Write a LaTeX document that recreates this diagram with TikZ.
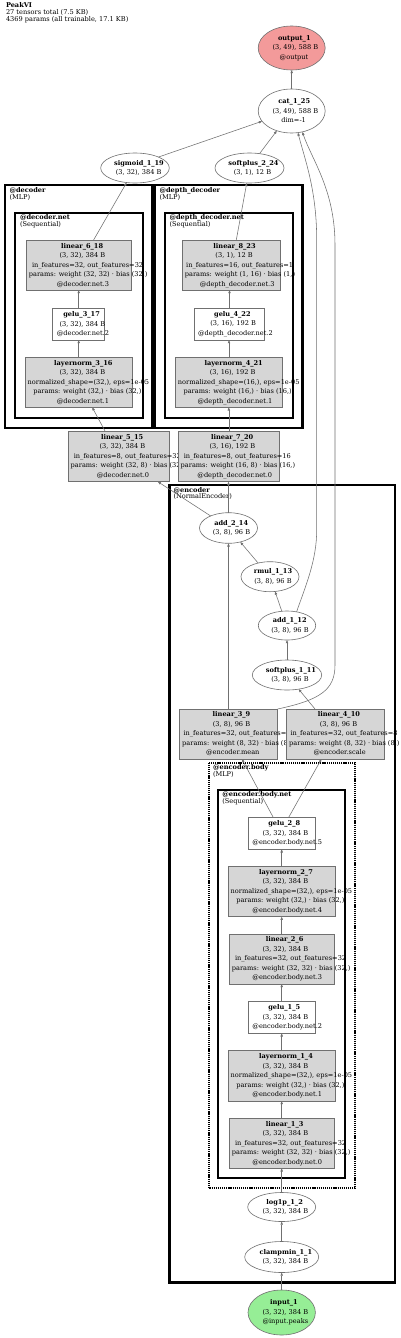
\documentclass[tikz,border=0pt]{standalone}
\usepackage{fontspec}
\setmainfont{DejaVu Serif}
\usetikzlibrary{shapes.geometric,arrows.meta,calc}
\definecolor{ncoral}{HTML}{F39A9A}
\definecolor{ngreen}{HTML}{96EE96}
\definecolor{ngray}{HTML}{D6D6D6}
\definecolor{nline}{HTML}{707070}
\newsavebox{\lnbox}
\newcommand{\cl}[1]{\sbox{\lnbox}{#1}\makebox[0pt]{\kern0.16\wd\lnbox\usebox{\lnbox}}}
\tikzset{
 every node/.style={inner sep=0pt, outer sep=0pt},
 nfont/.style={font=\fontsize{6.6}{9.5}\selectfont},
 gbox/.style={rectangle, draw=nline, fill=ngray, line width=0.6pt, nfont, align=center},
 wbox/.style={gbox, fill=white},
 oval/.style={ellipse, draw=nline, fill=white, line width=0.6pt, nfont, align=center},
 edge/.style={draw=nline, line width=0.55pt, -{Triangle[length=3.2pt,width=2.4pt]}},
 clusterA/.style={draw=black, line width=2.8pt},
 clusterB/.style={draw=black, line width=1.9pt},
 clusterD/.style={draw=black, line width=2pt, dash pattern=on 1.2pt off 0.9pt},
 clab/.style={font=\fontsize{6.6}{6.8}\selectfont, align=left, anchor=north west},
}
\begin{document}
\begin{tikzpicture}[x=1pt,y=-1pt]
\useasboundingbox[fill=white] (0,0) rectangle (400,1338);
% title
\node[clab, font=\fontsize{6.6}{7}\selectfont] (title) at (6,2.3) {\textbf{PeakVI}\\27 tensors total (7.5 KB)\\4369 params (all trainable, 17.1 KB)};
% clusters
\draw[clusterA] (5,185) rectangle (152.7,428);
\draw[clusterB] (15,212.7) rectangle (142.7,417.7);
\draw[clusterA] (155,185) rectangle (302.7,428);
\draw[clusterB] (165,212.7) rectangle (292.7,417.7);
\draw[clusterA] (169.3,485) rectangle (395,1282.7);
\draw[clusterD] (208.7,762.7) rectangle (355,1188.3);
\draw[clusterB] (217.7,790) rectangle (345,1178.3);
\node[clab] (lab_decoder) at (9.5,187.3) {\textbf{@decoder}\\(MLP)};
\node[clab] (lab_decoder_net) at (20,214.9) {\textbf{@decoder.net}\\(Sequential)};
\node[clab] (lab_depth) at (159.5,187.3) {\textbf{@depth\_decoder}\\(MLP)};
\node[clab] (lab_depth_net) at (169.5,214.9) {\textbf{@depth\_decoder.net}\\(Sequential)};
\node[clab] (lab_enc) at (173.5,487.1) {\textbf{@encoder}\\(NormalEncoder)};
\node[clab] (lab_body) at (213,764.4) {\textbf{@encoder.body}\\(MLP)};
\node[clab] (lab_bodynet) at (222.3,791.4) {\textbf{@encoder.body.net}\\(Sequential)};
% nodes
\node[oval, fill=ncoral, minimum width=67pt, minimum height=44pt] (output_1) at (291.7,48) {\cl{\textbf{output\_1}}\\\cl{(3, 49), 588 B}\\\cl{@output}};
\node[oval, minimum width=67pt, minimum height=44pt] (cat_1_25) at (291.7,111) {\cl{\textbf{cat\_1\_25}}\\\cl{(3, 49), 588 B}\\\cl{dim=-1}};
\node[oval, minimum width=68.6pt, minimum height=30pt] (sigmoid_1_19) at (135,168) {\cl{\textbf{sigmoid\_1\_19}}\\\cl{(3, 32), 384 B}};
\node[oval, minimum width=69pt, minimum height=30pt] (softplus_2_24) at (249.5,168) {\cl{\textbf{softplus\_2\_24}}\\\cl{(3, 1), 12 B}};
% decoder
\node[gbox, minimum width=105.3pt, minimum height=49.3pt] (linear_6_18) at (78.7,265.35) {\cl{\textbf{linear\_6\_18}}\\\cl{(3, 32), 384 B}\\\cl{in\_features=32, out\_features=32}\\\cl{params: weight (32, 32) · bias (32,)}\\\cl{@decoder.net.3}};
\node[wbox, minimum width=52pt, minimum height=31.7pt] (gelu_3_17) at (78.7,324.15) {\cl{\textbf{gelu\_3\_17}}\\\cl{(3, 32), 384 B}\\\cl{@decoder.net.2}};
\node[gbox, minimum width=106.6pt, minimum height=50pt] (layernorm_3_16) at (78.7,382.3) {\cl{\textbf{layernorm\_3\_16}}\\\cl{(3, 32), 384 B}\\\cl{normalized\_shape=(32,), eps=1e-05}\\\cl{params: weight (32,) · bias (32,)}\\\cl{@decoder.net.1}};
% depth decoder
\node[gbox, minimum width=97.7pt, minimum height=49.3pt] (linear_8_23) at (231.15,265.35) {\cl{\textbf{linear\_8\_23}}\\\cl{(3, 1), 12 B}\\\cl{in\_features=16, out\_features=1}\\\cl{params: weight (1, 16) · bias (1,)}\\\cl{@depth\_decoder.net.3}};
\node[wbox, minimum width=70.4pt, minimum height=31.7pt] (gelu_4_22) at (229.5,324.15) {\cl{\textbf{gelu\_4\_22}}\\\cl{(3, 16), 192 B}\\\cl{@depth\_decoder.net.2}};
\node[gbox, minimum width=106.6pt, minimum height=50pt] (layernorm_4_21) at (229,382.3) {\cl{\textbf{layernorm\_4\_21}}\\\cl{(3, 16), 192 B}\\\cl{normalized\_shape=(16,), eps=1e-05}\\\cl{params: weight (16,) · bias (16,)}\\\cl{@depth\_decoder.net.1}};
\node[gbox, minimum width=101pt, minimum height=50.7pt] (linear_5_15) at (118.8,456.35) {\cl{\textbf{linear\_5\_15}}\\\cl{(3, 32), 384 B}\\\cl{in\_features=8, out\_features=32}\\\cl{params: weight (32, 8) · bias (32,)}\\\cl{@decoder.net.0}};
\node[gbox, minimum width=101pt, minimum height=50.7pt] (linear_7_20) at (228.8,456.35) {\cl{\textbf{linear\_7\_20}}\\\cl{(3, 16), 192 B}\\\cl{in\_features=8, out\_features=16}\\\cl{params: weight (16, 8) · bias (16,)}\\\cl{@depth\_decoder.net.0}};
% encoder
\node[oval, minimum width=58pt, minimum height=30.6pt] (add_2_14) at (228.5,528) {\cl{\textbf{add\_2\_14}}\\\cl{(3, 8), 96 B}};
\node[oval, minimum width=58pt, minimum height=30pt] (rmul_1_13) at (270,576.7) {\cl{\textbf{rmul\_1\_13}}\\\cl{(3, 8), 96 B}};
\node[oval, minimum width=57.4pt, minimum height=29pt] (add_1_12) at (287,625.5) {\cl{\textbf{add\_1\_12}}\\\cl{(3, 8), 96 B}};
\node[oval, minimum width=69.4pt, minimum height=30pt] (softplus_1_11) at (287,675) {\cl{\textbf{softplus\_1\_11}}\\\cl{(3, 8), 96 B}};
\node[gbox, minimum width=98.4pt, minimum height=50pt] (linear_3_9) at (228.5,734) {\cl{\textbf{linear\_3\_9}}\\\cl{(3, 8), 96 B}\\\cl{in\_features=32, out\_features=8}\\\cl{params: weight (8, 32) · bias (8,)}\\\cl{@encoder.mean}};
\node[gbox, minimum width=97.6pt, minimum height=50pt] (linear_4_10) at (335.5,734) {\cl{\textbf{linear\_4\_10}}\\\cl{(3, 8), 96 B}\\\cl{in\_features=32, out\_features=8}\\\cl{params: weight (8, 32) · bias (8,)}\\\cl{@encoder.scale}};
\node[wbox, minimum width=66.7pt, minimum height=32pt] (gelu_2_8) at (281.7,833.3) {\cl{\textbf{gelu\_2\_8}}\\\cl{(3, 32), 384 B}\\\cl{@encoder.body.net.5}};
\node[gbox, minimum width=106.7pt, minimum height=50.7pt] (layernorm_2_7) at (281.7,891.35) {\cl{\textbf{layernorm\_2\_7}}\\\cl{(3, 32), 384 B}\\\cl{normalized\_shape=(32,), eps=1e-05}\\\cl{params: weight (32,) · bias (32,)}\\\cl{@encoder.body.net.4}};
\node[gbox, minimum width=105pt, minimum height=50pt] (linear_2_6) at (281.7,959) {\cl{\textbf{linear\_2\_6}}\\\cl{(3, 32), 384 B}\\\cl{in\_features=32, out\_features=32}\\\cl{params: weight (32, 32) · bias (32,)}\\\cl{@encoder.body.net.3}};
\node[wbox, minimum width=66.7pt, minimum height=31.6pt] (gelu_1_5) at (281.7,1017.5) {\cl{\textbf{gelu\_1\_5}}\\\cl{(3, 32), 384 B}\\\cl{@encoder.body.net.2}};
\node[gbox, minimum width=106.7pt, minimum height=50.3pt] (layernorm_1_4) at (281.7,1075.85) {\cl{\textbf{layernorm\_1\_4}}\\\cl{(3, 32), 384 B}\\\cl{normalized\_shape=(32,), eps=1e-05}\\\cl{params: weight (32,) · bias (32,)}\\\cl{@encoder.body.net.1}};
\node[gbox, minimum width=105pt, minimum height=50pt] (linear_1_3) at (281.7,1143.3) {\cl{\textbf{linear\_1\_3}}\\\cl{(3, 32), 384 B}\\\cl{in\_features=32, out\_features=32}\\\cl{params: weight (32, 32) · bias (32,)}\\\cl{@encoder.body.net.0}};
\node[oval, minimum width=68pt, minimum height=29pt] (log1p_1_2) at (281.7,1207) {\cl{\textbf{log1p\_1\_2}}\\\cl{(3, 32), 384 B}};
\node[oval, minimum width=74pt, minimum height=31pt] (clampmin_1_1) at (281.7,1257) {\cl{\textbf{clampmin\_1\_1}}\\\cl{(3, 32), 384 B}};
\node[oval, fill=ngreen, minimum width=67.4pt, minimum height=45pt] (input_1) at (281.7,1312.5) {\cl{\textbf{input\_1}}\\\cl{(3, 32), 384 B}\\\cl{@input.peaks}};
% edges
\draw[edge] (input_1) -- (clampmin_1_1);
\draw[edge] (clampmin_1_1) -- (log1p_1_2);
\draw[edge] (log1p_1_2) -- (linear_1_3);
\draw[edge] (linear_1_3) -- (layernorm_1_4);
\draw[edge] (layernorm_1_4) -- (gelu_1_5);
\draw[edge] (gelu_1_5) -- (linear_2_6);
\draw[edge] (linear_2_6) -- (layernorm_2_7);
\draw[edge] (layernorm_2_7) -- (gelu_2_8);
\draw[edge] ($(gelu_2_8.north)+(-8.5,0)$) -- (linear_3_9);
\draw[edge] ($(gelu_2_8.north)+(7,0)$) -- (linear_4_10);
\draw[edge] ($(linear_4_10.north)+(-20.5,0)$) -- (softplus_1_11);
\draw[edge] (softplus_1_11) -- (add_1_12);
\draw[edge] (add_1_12.110) -- (rmul_1_13);
\draw[edge] (rmul_1_13.131) -- (add_2_14);
\draw[edge] (linear_3_9) -- (add_2_14);
\draw[edge] (add_2_14.146) -- (linear_5_15);
\draw[edge] (add_2_14.north) -- (add_2_14.north |- linear_7_20.south);
\draw[edge] ($(linear_5_15.north)+(-13.8,0)$) -- (layernorm_3_16);
\draw[edge] (layernorm_3_16) -- (gelu_3_17);
\draw[edge] (gelu_3_17) -- (linear_6_18);
\draw[edge] ($(linear_6_18.north)+(14.5,0)$) -- (sigmoid_1_19);
\draw[edge] (linear_7_20.north) -- (linear_7_20.north |- layernorm_4_21.south);
\draw[edge] (layernorm_4_21.north) -- (layernorm_4_21.north |- gelu_4_22.south);
\draw[edge] (gelu_4_22.north) -- (gelu_4_22.north |- linear_8_23.south);
\draw[edge] ($(linear_8_23.north)+(5,0)$) -- (softplus_2_24);
\draw[edge] (sigmoid_1_19.25) -- (cat_1_25);
\draw[edge] (softplus_2_24.55) -- (cat_1_25);
\draw[edge] (add_1_12.55) .. controls (306,585) and (316.7,560) .. (316.7,530) -- (316.7,240) .. controls (316.7,190) and (305,160) .. (cat_1_25.-74);
\draw[edge] (linear_3_9.north east) .. controls (320,700) and (335,690) .. (335,665) -- (335,245) .. controls (335,190) and (312,160) .. (cat_1_25.-63);
\draw[edge] (cat_1_25) -- (output_1);
\end{tikzpicture}
\end{document}
